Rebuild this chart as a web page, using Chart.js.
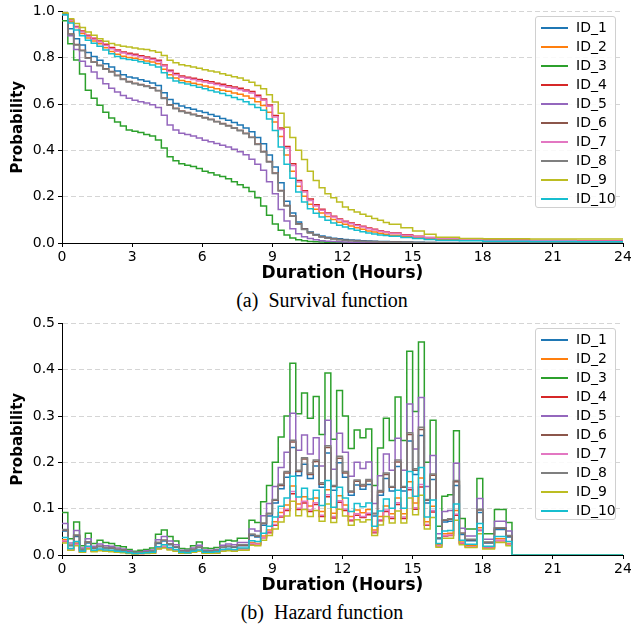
<!DOCTYPE html>
<html>
<head>
<meta charset="utf-8">
<script src="https://cdn.jsdelivr.net/npm/chart.js@4.4.1/dist/chart.umd.min.js"></script>
<style>
  body { margin: 0; background: #fff; }
  #page { position: relative; width: 631px; height: 629px; overflow: hidden; }
  .panel { position: absolute; left: 0; width: 631px; height: 288px; }
  .legend {
    position: absolute; left: 535px; width: 81px; height: 192px;
    border: 1px solid #d0d0d0; border-radius: 3px; background: rgba(255,255,255,0.85);
    font: 14px "DejaVu Sans", sans-serif; color: #000; box-sizing: border-box; padding-top: 1px;
  }
  .legend .item { height: 19px; line-height: 19px; position: relative; }
  .legend .swatch { position: absolute; left: 5px; top: 9px; width: 27px; height: 2px; }
  .legend .label { position: absolute; left: 40px; top: 0; }
  .caption {
    position: absolute; left: 0; width: 644px; text-align: center;
    font: 20px "Liberation Serif", "Times New Roman", serif; color: #000; height: 24px; line-height: 24px;
  }
</style>
</head>
<body>
<div id="page">
  <div class="panel" style="top:0px">
    <canvas id="survivalChart" width="631" height="288"></canvas>
    <div class="legend" id="survivalLegend" style="top:16px"></div>
  </div>
  <div class="caption" style="top:288px">(a)&nbsp; Survival function</div>
  <div class="panel" style="top:312px">
    <canvas id="hazardChart" width="631" height="288"></canvas>
    <div class="legend" id="hazardLegend" style="top:16px"></div>
  </div>
  <div class="caption" style="top:600px">(b)&nbsp; Hazard function</div>
</div>

<script>
const seriesNames = ['ID_1', 'ID_2', 'ID_3', 'ID_4', 'ID_5', 'ID_6', 'ID_7', 'ID_8', 'ID_9', 'ID_10'];
const seriesColors = ['#1f77b4', '#ff7f0e', '#2ca02c', '#d62728', '#9467bd', '#8c564b', '#e377c2', '#7f7f7f', '#bcbd22', '#17becf'];
const xTicks = [0, 3, 6, 9, 12, 15, 18, 21, 24];

// survival: step starts (hours)
const survivalHours = [
  0, 0.25, 0.5, 0.75, 1, 1.25, 1.5, 1.75,
  2, 2.25, 2.5, 2.75, 3, 3.25, 3.5, 3.75,
  4, 4.25, 4.5, 4.75, 5, 5.25, 5.5, 5.75,
  6, 6.25, 6.5, 6.75, 7, 7.25, 7.5, 7.75,
  8, 8.25, 8.5, 8.75, 9, 9.25, 9.5, 9.75,
  10, 10.25, 10.5, 10.75, 11, 11.25, 11.5, 11.75,
  12, 12.25, 12.5, 12.75, 13, 13.25, 13.5, 13.75,
  14, 14.5, 15, 15.5, 16, 17, 18, 20, 22, 24
];

const survival_ID_1 = [
  0.99, 0.925, 0.882, 0.855, 0.822, 0.805, 0.789, 0.774,
  0.76, 0.743, 0.727, 0.717, 0.712, 0.705, 0.698, 0.691,
  0.68, 0.649, 0.62, 0.602, 0.591, 0.584, 0.577, 0.57,
  0.563, 0.555, 0.547, 0.538, 0.53, 0.52, 0.51, 0.497,
  0.48, 0.455, 0.429, 0.38, 0.328, 0.26, 0.18, 0.13,
  0.091, 0.062, 0.047, 0.037, 0.03, 0.025, 0.021, 0.018,
  0.015, 0.013, 0.012, 0.01, 0.009, 0.008, 0.007, 0.006,
  0.005, 0.004, 0.003, 0.0025, 0.002, 0.0015, 0.0012, 0.0012, 0.0012, 0.0012
];
const survival_ID_2 = [
  0.99, 0.955, 0.93, 0.905, 0.885, 0.872, 0.86, 0.843,
  0.827, 0.815, 0.806, 0.801, 0.798, 0.792, 0.786, 0.781,
  0.774, 0.75, 0.727, 0.712, 0.702, 0.696, 0.69, 0.684,
  0.678, 0.672, 0.666, 0.66, 0.655, 0.648, 0.642, 0.635,
  0.625, 0.61, 0.594, 0.565, 0.522, 0.46, 0.38, 0.31,
  0.245, 0.202, 0.167, 0.146, 0.129, 0.114, 0.101, 0.09,
  0.081, 0.073, 0.066, 0.059, 0.052, 0.047, 0.042, 0.038,
  0.034, 0.028, 0.023, 0.018, 0.015, 0.012, 0.01, 0.008, 0.007, 0.006
];
const survival_ID_3 = [
  0.96, 0.86, 0.79, 0.73, 0.66, 0.625, 0.595, 0.565,
  0.54, 0.522, 0.505, 0.488, 0.482, 0.477, 0.468, 0.462,
  0.445, 0.41, 0.372, 0.355, 0.342, 0.336, 0.33, 0.322,
  0.31, 0.303, 0.294, 0.287, 0.277, 0.265, 0.252, 0.24,
  0.222, 0.195, 0.16, 0.12, 0.082, 0.055, 0.035, 0.022,
  0.014, 0.01, 0.007, 0.005, 0.004, 0.003, 0.002, 0.0015,
  0.001, 0.001, 0.001, 0.001, 0.0005, 0.0005, 0.0005, 0.0005,
  0, 0, 0, 0, 0, 0, 0, 0, 0, 0
];
const survival_ID_4 = [
  0.99, 0.963, 0.935, 0.915, 0.897, 0.884, 0.872, 0.858,
  0.844, 0.833, 0.825, 0.819, 0.815, 0.809, 0.803, 0.797,
  0.789, 0.769, 0.746, 0.732, 0.721, 0.716, 0.711, 0.706,
  0.701, 0.696, 0.69, 0.685, 0.679, 0.674, 0.668, 0.661,
  0.654, 0.638, 0.622, 0.596, 0.551, 0.497, 0.417, 0.342,
  0.27, 0.226, 0.19, 0.165, 0.146, 0.13, 0.116, 0.104,
  0.094, 0.086, 0.079, 0.072, 0.065, 0.059, 0.053, 0.048,
  0.043, 0.036, 0.029, 0.024, 0.021, 0.017, 0.013, 0.011, 0.01, 0.009
];
const survival_ID_5 = [
  0.985, 0.895, 0.835, 0.785, 0.763, 0.738, 0.71, 0.688,
  0.668, 0.652, 0.637, 0.625, 0.616, 0.61, 0.604, 0.597,
  0.585, 0.552, 0.51, 0.488, 0.474, 0.468, 0.462, 0.453,
  0.444, 0.437, 0.43, 0.422, 0.414, 0.405, 0.394, 0.381,
  0.362, 0.34, 0.314, 0.265, 0.213, 0.145, 0.095, 0.062,
  0.04, 0.027, 0.019, 0.014, 0.01, 0.008, 0.006, 0.005,
  0.004, 0.0035, 0.003, 0.0025, 0.002, 0.002, 0.0015, 0.0015,
  0.001, 0.001, 0.0005, 0.0005, 0.0003, 0.0002, 0, 0, 0, 0
];
const survival_ID_6 = [
  0.99, 0.902, 0.857, 0.832, 0.8, 0.782, 0.767, 0.752,
  0.74, 0.724, 0.708, 0.697, 0.69, 0.684, 0.678, 0.67,
  0.659, 0.626, 0.597, 0.582, 0.57, 0.563, 0.556, 0.549,
  0.542, 0.534, 0.525, 0.516, 0.507, 0.497, 0.487, 0.474,
  0.457, 0.427, 0.395, 0.352, 0.302, 0.227, 0.162, 0.117,
  0.083, 0.06, 0.045, 0.034, 0.027, 0.022, 0.018, 0.015,
  0.012, 0.011, 0.009, 0.008, 0.007, 0.006, 0.005, 0.0045,
  0.004, 0.0035, 0.0025, 0.002, 0.0015, 0.0012, 0.001, 0.001, 0.001, 0.001
];
const survival_ID_7 = [
  0.99, 0.961, 0.932, 0.911, 0.893, 0.88, 0.868, 0.853,
  0.839, 0.828, 0.82, 0.814, 0.81, 0.804, 0.798, 0.792,
  0.784, 0.764, 0.741, 0.727, 0.716, 0.711, 0.706, 0.7,
  0.695, 0.69, 0.684, 0.679, 0.673, 0.668, 0.662, 0.655,
  0.648, 0.632, 0.616, 0.59, 0.544, 0.49, 0.41, 0.335,
  0.263, 0.22, 0.184, 0.16, 0.141, 0.126, 0.112, 0.1,
  0.091, 0.083, 0.076, 0.069, 0.062, 0.056, 0.051, 0.046,
  0.041, 0.034, 0.027, 0.023, 0.02, 0.016, 0.012, 0.01, 0.009, 0.008
];
const survival_ID_8 = [
  0.99, 0.9, 0.855, 0.83, 0.798, 0.78, 0.765, 0.75,
  0.738, 0.722, 0.706, 0.695, 0.688, 0.682, 0.676, 0.668,
  0.657, 0.624, 0.595, 0.58, 0.568, 0.561, 0.554, 0.547,
  0.54, 0.532, 0.523, 0.514, 0.505, 0.495, 0.485, 0.472,
  0.455, 0.425, 0.393, 0.35, 0.3, 0.225, 0.16, 0.115,
  0.081, 0.058, 0.043, 0.033, 0.026, 0.021, 0.017, 0.014,
  0.011, 0.01, 0.008, 0.007, 0.006, 0.005, 0.0045, 0.004,
  0.0035, 0.003, 0.002, 0.0015, 0.001, 0.001, 0.0008, 0.0008, 0.0008, 0.0008
];
const survival_ID_9 = [
  0.994, 0.968, 0.948, 0.93, 0.911, 0.897, 0.882, 0.871,
  0.861, 0.855, 0.85, 0.846, 0.842, 0.838, 0.835, 0.83,
  0.824, 0.81, 0.789, 0.778, 0.77, 0.765, 0.76, 0.754,
  0.748, 0.743, 0.738, 0.731, 0.724, 0.718, 0.712, 0.703,
  0.694, 0.68, 0.666, 0.64, 0.609, 0.56, 0.5, 0.455,
  0.4, 0.36, 0.31, 0.27, 0.239, 0.213, 0.195, 0.177,
  0.155, 0.144, 0.134, 0.124, 0.115, 0.106, 0.098, 0.089,
  0.081, 0.066, 0.052, 0.038, 0.025, 0.019, 0.018, 0.017, 0.017, 0.017
];
const survival_ID_10 = [
  0.985, 0.95, 0.92, 0.895, 0.875, 0.862, 0.85, 0.833,
  0.817, 0.805, 0.797, 0.792, 0.789, 0.783, 0.776, 0.769,
  0.76, 0.735, 0.712, 0.7, 0.692, 0.686, 0.68, 0.673,
  0.666, 0.659, 0.652, 0.645, 0.637, 0.628, 0.62, 0.61,
  0.598, 0.585, 0.573, 0.535, 0.486, 0.415, 0.34, 0.28,
  0.22, 0.177, 0.148, 0.128, 0.112, 0.098, 0.086, 0.077,
  0.069, 0.062, 0.055, 0.049, 0.043, 0.039, 0.035, 0.032,
  0.029, 0.024, 0.019, 0.015, 0.012, 0.01, 0.008, 0.006, 0.005, 0.005
];

// hazard: step starts (hours), zero after 19.25
const hazardHours = [
  0, 0.25, 0.5, 0.75, 1, 1.25, 1.5, 1.75,
  2, 2.25, 2.5, 2.75, 3, 3.25, 3.5, 3.75,
  4, 4.25, 4.5, 4.75, 5, 5.25, 5.5, 5.75,
  6, 6.25, 6.5, 6.75, 7, 7.25, 7.5, 7.75,
  8, 8.25, 8.5, 8.75, 9, 9.25, 9.5, 9.75,
  10, 10.25, 10.5, 10.75, 11, 11.25, 11.5, 11.75,
  12, 12.25, 12.5, 12.75, 13, 13.25, 13.5, 13.75,
  14, 14.25, 14.5, 14.75, 15, 15.25, 15.5, 15.75,
  16, 16.25, 16.5, 16.75, 17, 17.25, 17.5, 17.75,
  18, 18.25, 18.5, 18.75, 19, 19.25, 24
];

const hazard_ID_1 = [
  0.052, 0.020, 0.040, 0.011, 0.026, 0.014, 0.018, 0.015,
  0.014, 0.011, 0.010, 0.007, 0.004, 0.006, 0.007, 0.008,
  0.025, 0.030, 0.022, 0.017, 0.008, 0.007, 0.011, 0.016,
  0.008, 0.008, 0.009, 0.016, 0.018, 0.017, 0.020, 0.020,
  0.042, 0.039, 0.064, 0.084, 0.112, 0.143, 0.168, 0.232,
  0.171, 0.196, 0.165, 0.192, 0.146, 0.220, 0.140, 0.199,
  0.168, 0.129, 0.151, 0.142, 0.152, 0.084, 0.129, 0.165,
  0.138, 0.191, 0.138, 0.246, 0.174, 0.258, 0.112, 0.163,
  0.035, 0.071, 0.073, 0.150, 0.044, 0.031, 0.031, 0.092,
  0.026, 0.026, 0.055, 0.055, 0.039, 0, 0
];
const hazard_ID_2 = [
  0.033, 0.013, 0.026, 0.007, 0.017, 0.009, 0.012, 0.010,
  0.009, 0.007, 0.006, 0.004, 0.003, 0.004, 0.004, 0.005,
  0.016, 0.019, 0.014, 0.011, 0.005, 0.005, 0.007, 0.010,
  0.005, 0.005, 0.006, 0.010, 0.012, 0.011, 0.013, 0.013,
  0.027, 0.025, 0.041, 0.054, 0.072, 0.092, 0.108, 0.149,
  0.110, 0.126, 0.106, 0.123, 0.094, 0.141, 0.090, 0.128,
  0.108, 0.083, 0.097, 0.091, 0.098, 0.054, 0.083, 0.106,
  0.089, 0.123, 0.089, 0.158, 0.112, 0.166, 0.072, 0.105,
  0.022, 0.046, 0.047, 0.096, 0.028, 0.020, 0.020, 0.059,
  0.017, 0.017, 0.035, 0.035, 0.025, 0, 0
];
const hazard_ID_3 = [
  0.092, 0.035, 0.071, 0.020, 0.047, 0.025, 0.032, 0.027,
  0.025, 0.020, 0.018, 0.012, 0.008, 0.010, 0.012, 0.015,
  0.045, 0.054, 0.040, 0.030, 0.014, 0.013, 0.020, 0.028,
  0.015, 0.014, 0.016, 0.029, 0.032, 0.030, 0.036, 0.036,
  0.075, 0.070, 0.115, 0.150, 0.200, 0.255, 0.300, 0.414,
  0.305, 0.350, 0.295, 0.342, 0.260, 0.393, 0.250, 0.355,
  0.300, 0.230, 0.270, 0.253, 0.272, 0.150, 0.231, 0.295,
  0.247, 0.341, 0.247, 0.440, 0.310, 0.460, 0.200, 0.291,
  0.062, 0.127, 0.130, 0.268, 0.079, 0.056, 0.056, 0.165,
  0.046, 0.046, 0.098, 0.098, 0.070, 0, 0
];
const hazard_ID_4 = [
  0.029, 0.011, 0.023, 0.006, 0.015, 0.008, 0.010, 0.009,
  0.008, 0.006, 0.006, 0.004, 0.003, 0.003, 0.004, 0.005,
  0.014, 0.017, 0.013, 0.010, 0.004, 0.004, 0.006, 0.009,
  0.005, 0.004, 0.005, 0.009, 0.010, 0.010, 0.012, 0.012,
  0.024, 0.022, 0.037, 0.048, 0.064, 0.082, 0.096, 0.132,
  0.098, 0.112, 0.094, 0.109, 0.083, 0.126, 0.080, 0.114,
  0.096, 0.074, 0.086, 0.081, 0.087, 0.048, 0.074, 0.094,
  0.079, 0.109, 0.079, 0.141, 0.099, 0.147, 0.064, 0.093,
  0.020, 0.041, 0.042, 0.086, 0.025, 0.018, 0.018, 0.053,
  0.015, 0.015, 0.031, 0.031, 0.022, 0, 0
];
const hazard_ID_5 = [
  0.068, 0.026, 0.053, 0.015, 0.035, 0.019, 0.024, 0.020,
  0.019, 0.015, 0.013, 0.009, 0.006, 0.007, 0.009, 0.011,
  0.033, 0.040, 0.030, 0.022, 0.010, 0.010, 0.015, 0.021,
  0.011, 0.010, 0.012, 0.021, 0.024, 0.022, 0.027, 0.027,
  0.056, 0.052, 0.085, 0.111, 0.148, 0.189, 0.222, 0.306,
  0.226, 0.259, 0.218, 0.253, 0.192, 0.291, 0.185, 0.263,
  0.222, 0.170, 0.200, 0.187, 0.201, 0.111, 0.171, 0.218,
  0.183, 0.252, 0.183, 0.326, 0.229, 0.340, 0.148, 0.215,
  0.046, 0.094, 0.096, 0.198, 0.058, 0.041, 0.041, 0.122,
  0.034, 0.034, 0.073, 0.073, 0.052, 0, 0
];
const hazard_ID_6 = [
  0.054, 0.021, 0.042, 0.012, 0.028, 0.015, 0.019, 0.016,
  0.015, 0.012, 0.011, 0.007, 0.005, 0.006, 0.007, 0.009,
  0.027, 0.032, 0.024, 0.018, 0.008, 0.008, 0.012, 0.017,
  0.009, 0.008, 0.009, 0.017, 0.019, 0.018, 0.021, 0.021,
  0.044, 0.041, 0.068, 0.089, 0.118, 0.150, 0.177, 0.244,
  0.180, 0.207, 0.174, 0.202, 0.153, 0.232, 0.148, 0.209,
  0.177, 0.136, 0.159, 0.149, 0.160, 0.089, 0.136, 0.174,
  0.146, 0.201, 0.146, 0.260, 0.183, 0.271, 0.118, 0.172,
  0.037, 0.075, 0.077, 0.158, 0.047, 0.033, 0.033, 0.097,
  0.027, 0.027, 0.058, 0.058, 0.041, 0, 0
];
const hazard_ID_7 = [
  0.030, 0.012, 0.023, 0.007, 0.016, 0.008, 0.011, 0.009,
  0.008, 0.007, 0.006, 0.004, 0.003, 0.003, 0.004, 0.005,
  0.015, 0.018, 0.013, 0.010, 0.005, 0.004, 0.007, 0.009,
  0.005, 0.005, 0.005, 0.010, 0.011, 0.010, 0.012, 0.012,
  0.025, 0.023, 0.038, 0.050, 0.066, 0.084, 0.099, 0.137,
  0.101, 0.116, 0.097, 0.113, 0.086, 0.130, 0.083, 0.117,
  0.099, 0.076, 0.089, 0.083, 0.090, 0.050, 0.076, 0.097,
  0.082, 0.113, 0.082, 0.145, 0.102, 0.152, 0.066, 0.096,
  0.020, 0.042, 0.043, 0.088, 0.026, 0.018, 0.018, 0.054,
  0.015, 0.015, 0.032, 0.032, 0.023, 0, 0
];
const hazard_ID_8 = [
  0.055, 0.021, 0.043, 0.012, 0.028, 0.015, 0.019, 0.016,
  0.015, 0.012, 0.011, 0.007, 0.005, 0.006, 0.007, 0.009,
  0.027, 0.032, 0.024, 0.018, 0.008, 0.008, 0.012, 0.017,
  0.009, 0.008, 0.010, 0.017, 0.019, 0.018, 0.022, 0.022,
  0.045, 0.042, 0.069, 0.090, 0.120, 0.153, 0.180, 0.248,
  0.183, 0.210, 0.177, 0.205, 0.156, 0.236, 0.150, 0.213,
  0.180, 0.138, 0.162, 0.152, 0.163, 0.090, 0.139, 0.177,
  0.148, 0.205, 0.148, 0.264, 0.186, 0.276, 0.120, 0.175,
  0.037, 0.076, 0.078, 0.161, 0.047, 0.034, 0.034, 0.099,
  0.028, 0.028, 0.059, 0.059, 0.042, 0, 0
];
const hazard_ID_9 = [
  0.026, 0.010, 0.020, 0.006, 0.013, 0.007, 0.009, 0.008,
  0.007, 0.006, 0.005, 0.003, 0.002, 0.003, 0.003, 0.004,
  0.013, 0.015, 0.011, 0.008, 0.004, 0.004, 0.006, 0.008,
  0.004, 0.004, 0.004, 0.008, 0.009, 0.008, 0.010, 0.010,
  0.021, 0.020, 0.032, 0.042, 0.056, 0.071, 0.084, 0.116,
  0.085, 0.098, 0.083, 0.096, 0.073, 0.110, 0.070, 0.099,
  0.084, 0.064, 0.076, 0.071, 0.076, 0.042, 0.065, 0.083,
  0.069, 0.095, 0.069, 0.123, 0.087, 0.129, 0.056, 0.081,
  0.017, 0.036, 0.036, 0.075, 0.022, 0.016, 0.016, 0.046,
  0.013, 0.013, 0.027, 0.027, 0.020, 0, 0
];
const hazard_ID_10 = [
  0.038, 0.014, 0.029, 0.008, 0.019, 0.010, 0.013, 0.011,
  0.010, 0.008, 0.007, 0.005, 0.003, 0.004, 0.005, 0.006,
  0.018, 0.022, 0.016, 0.012, 0.006, 0.005, 0.008, 0.011,
  0.006, 0.006, 0.007, 0.012, 0.013, 0.012, 0.015, 0.015,
  0.031, 0.029, 0.047, 0.062, 0.082, 0.105, 0.123, 0.170,
  0.125, 0.144, 0.121, 0.140, 0.107, 0.161, 0.103, 0.146,
  0.123, 0.094, 0.111, 0.104, 0.112, 0.062, 0.095, 0.121,
  0.101, 0.140, 0.101, 0.180, 0.127, 0.189, 0.082, 0.119,
  0.025, 0.052, 0.053, 0.110, 0.032, 0.023, 0.023, 0.068,
  0.019, 0.019, 0.040, 0.040, 0.029, 0, 0
];

const survivalSeries = [survival_ID_1, survival_ID_2, survival_ID_3, survival_ID_4, survival_ID_5,
  survival_ID_6, survival_ID_7, survival_ID_8, survival_ID_9, survival_ID_10];
const hazardSeries = [hazard_ID_1, hazard_ID_2, hazard_ID_3, hazard_ID_4, hazard_ID_5,
  hazard_ID_6, hazard_ID_7, hazard_ID_8, hazard_ID_9, hazard_ID_10];

Chart.defaults.font.family = '"DejaVu Sans", sans-serif';
Chart.defaults.color = '#000';

function buildDatasets(hours, series) {
  return series.map((values, i) => ({
    label: seriesNames[i],
    data: values.map((v, k) => ({ x: hours[k], y: v })),
    borderColor: seriesColors[i],
    backgroundColor: seriesColors[i],
    borderWidth: 1.5,
    pointRadius: 0,
    stepped: true,
    fill: false,
    order: series.length - i   // later ids drawn on top, like matplotlib
  }));
}

function buildOptions(yMax, yStep) {
  return {
    responsive: false,
    animation: false,
    layout: { padding: { top: 10, right: 8, left: 0, bottom: 0 } },
    plugins: { legend: { display: false }, tooltip: { enabled: false } },
    scales: {
      x: {
        type: 'linear', min: 0, max: 24,
        afterBuildTicks: (scale) => { scale.ticks = xTicks.map(v => ({ value: v })); },
        afterFit: (scale) => { scale.height = 45; scale.paddingLeft = 0; scale.paddingRight = 0; },
        ticks: { font: { size: 14 }, padding: 2, maxRotation: 0 },
        grid: { drawOnChartArea: false, drawTicks: true, tickLength: 4, tickColor: '#000' },
        border: { color: '#000', width: 1 },
        title: { display: true, text: 'Duration (Hours)', font: { size: 17, weight: 'bold' }, padding: { top: 0, bottom: 4 } }
      },
      y: {
        min: 0, max: yMax,
        afterFit: (scale) => { scale.width = 62; },
        ticks: { stepSize: yStep, font: { size: 14 }, padding: 3, callback: (v) => v.toFixed(1) },
        grid: { color: 'rgba(180,180,180,0.7)', lineWidth: 0.8, tickLength: 4, tickColor: '#000', tickWidth: 1 },
        border: { color: '#000', width: 1, dash: [5, 3] },
        title: { display: true, text: 'Probability', font: { size: 15, weight: 'bold' }, padding: { top: 9, bottom: 0 } }
      }
    }
  };
}

function fillLegend(id) {
  const box = document.getElementById(id);
  seriesNames.forEach((name, i) => {
    const item = document.createElement('div');
    item.className = 'item';
    item.innerHTML = '<span class="swatch" style="background:' + seriesColors[i] + '"></span><span class="label">' + name + '</span>';
    box.appendChild(item);
  });
}

const survivalOptions = buildOptions(1.0, 0.2);
survivalOptions.layout.padding.top = 11;
new Chart(document.getElementById('survivalChart').getContext('2d'), {
  type: 'line',
  data: { datasets: buildDatasets(survivalHours, survivalSeries) },
  options: survivalOptions
});

new Chart(document.getElementById('hazardChart').getContext('2d'), {
  type: 'line',
  data: { datasets: buildDatasets(hazardHours, hazardSeries) },
  options: buildOptions(0.5, 0.1)
});

fillLegend('survivalLegend');
fillLegend('hazardLegend');
</script>
</body>
</html>
